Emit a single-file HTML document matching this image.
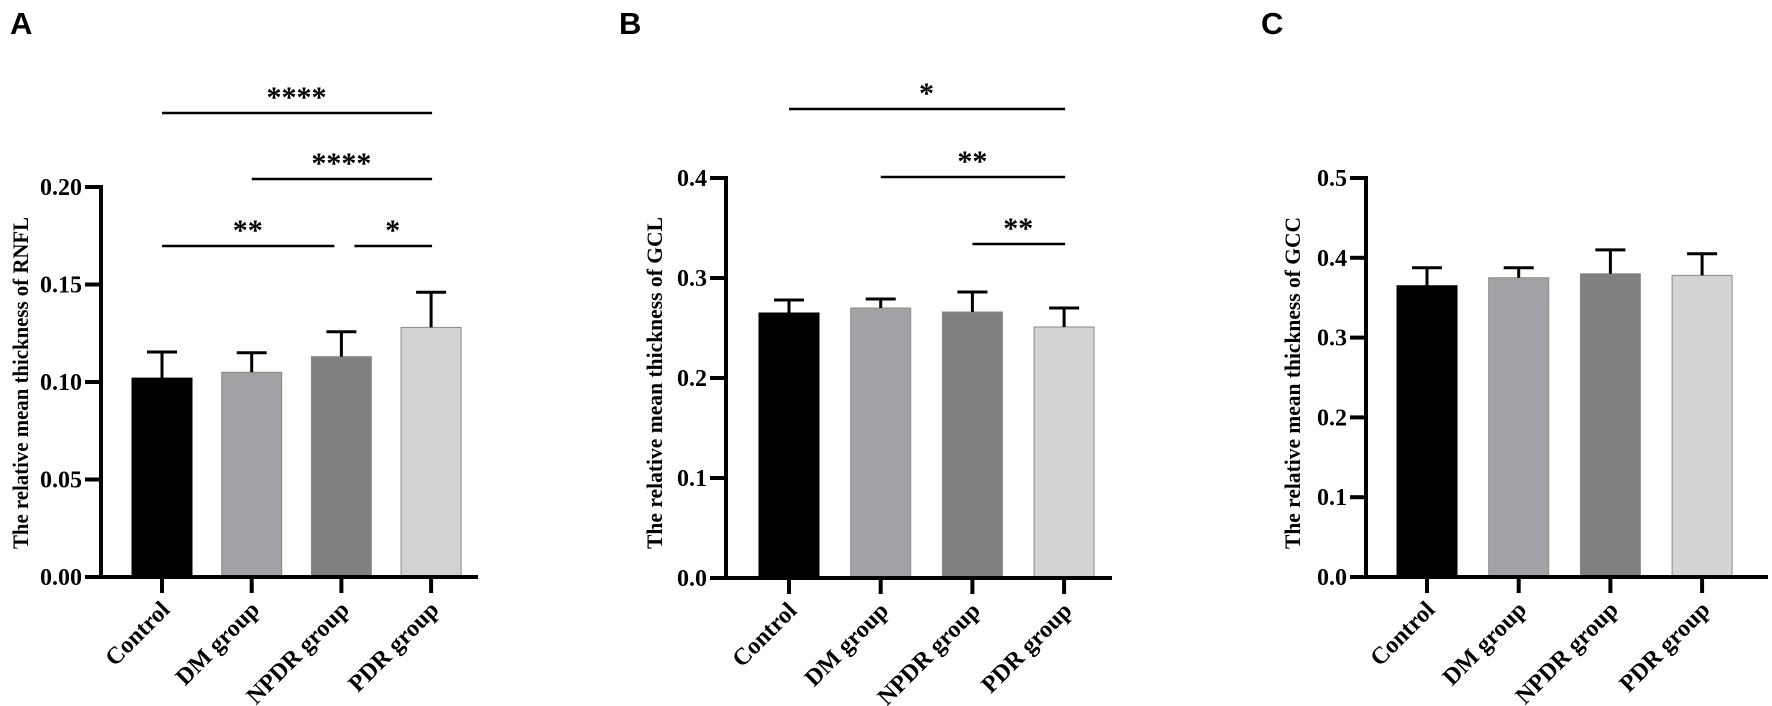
<!DOCTYPE html>
<html><head><meta charset="utf-8"><style>
html,body{margin:0;padding:0;background:#fff;}
svg{display:block;}
text{font-family:"Liberation Serif",serif;font-weight:bold;fill:#000;}
.plabel{font-family:"Liberation Sans",sans-serif;}
</style></head><body>
<svg id="fig" width="1772" height="706" viewBox="0 0 1772 706" xmlns="http://www.w3.org/2000/svg"></svg>
<script>
const categories = ["Control","DM group","NPDR group","PDR group"];
const barColors = ["#000000","#a2a1a6","#808080","#d3d3d3"];
const rnflMeans = [0.102,0.105,0.113,0.128];
const rnflErr = [0.0134,0.010,0.0128,0.018];
const rnflTicks = [0,0.05,0.10,0.15,0.20];
const rnflTickLabels = ["0.00","0.05","0.10","0.15","0.20"];
const rnflSig = [[0,3,"****"],[1,3,"****"],[0,2,"**"],[2,3,"*"]];
const gclMeans = [0.265,0.270,0.266,0.251];
const gclErr = [0.013,0.009,0.020,0.019];
const gclTicks = [0,0.1,0.2,0.3,0.4];
const gclTickLabels = ["0.0","0.1","0.2","0.3","0.4"];
const gclSig = [[0,3,"*"],[1,3,"**"],[2,3,"**"]];
const gccMeans = [0.365,0.375,0.380,0.378];
const gccErr = [0.0225,0.0125,0.030,0.027];
const gccTicks = [0,0.1,0.2,0.3,0.4,0.5];
const gccTickLabels = ["0.0","0.1","0.2","0.3","0.4","0.5"];
const gccSig = [];

const NS="http://www.w3.org/2000/svg";
const svg=document.getElementById('fig');
function mk(tag,attrs,parent){const e=document.createElementNS(NS,tag);for(const k in attrs)e.setAttribute(k,attrs[k]);(parent||svg).appendChild(e);return e;}

const panels=[
 {id:'a',letter:'A',lx:10,axisX:101,y0:577,yTop:187,ymax:0.20,x0:162,step:89.7,xEnd:478,means:rnflMeans,err:rnflErr,ticks:rnflTicks,labels:rnflTickLabels,sig:rnflSig,sigY:[113,179,246,246],title:"The relative mean thickness of RNFL",titleX:28},
 {id:'b',letter:'B',lx:619,axisX:726,y0:578,yTop:178,ymax:0.4,x0:789,step:91.7,xEnd:1112,means:gclMeans,err:gclErr,ticks:gclTicks,labels:gclTickLabels,sig:gclSig,sigY:[109,177,244],title:"The relative mean thickness of GCL",titleX:662},
 {id:'c',letter:'C',lx:1261,axisX:1366,y0:577,yTop:178,ymax:0.5,x0:1427,step:91.7,xEnd:1768,means:gccMeans,err:gccErr,ticks:gccTicks,labels:gccTickLabels,sig:gccSig,sigY:[],title:"The relative mean thickness of GCC",titleX:1300}
];

panels.forEach(p=>{
 const g=mk('g',{});
 
 
 const yS=v=>p.y0-(v/p.ymax)*(p.y0-p.yTop);
 const xS=i=>p.x0+i*p.step;
 const L=mk('text',{x:p.lx,y:34,'font-size':31,class:'plabel'},g);L.textContent=p.letter;
 
 
 p.means.forEach((m,i)=>{
  const cx=xS(i);
  const r=mk('rect',{x:cx-30,y:yS(m),width:60,height:p.y0-yS(m),fill:barColors[i],stroke:i==0?'#000':'#8a8a8a','stroke-width':1},g);
  
  
  const top=yS(m+p.err[i]);
  const e=mk('path',{d:`M${cx} ${yS(m)} V${top} M${cx-15} ${top} H${cx+15}`,stroke:'#000','stroke-width':3,fill:'none'},g);
  
  
  const t=mk('path',{d:`M${cx} ${p.y0} V${p.y0+16}`,stroke:'#000','stroke-width':4},g);
  
  
  const tx=mk('text',{x:0,y:0,'font-size':24,'text-anchor':'end',transform:`translate(${cx+9},${p.y0+34}) rotate(-45)`},g);
  tx.textContent=categories[i];
  
  
 });
 const ya=mk('path',{d:`M${p.axisX} ${p.yTop-2} V${p.y0+2}`,stroke:'#000','stroke-width':4},g);
 
 
 const xa=mk('path',{d:`M${p.axisX-16} ${p.y0} H${p.xEnd}`,stroke:'#000','stroke-width':4},g);
 
 
 p.ticks.forEach((v,k)=>{
  const y=yS(v);
  const tk=mk('path',{d:`M${p.axisX-16} ${y} H${p.axisX}`,stroke:'#000','stroke-width':4},g);
  
  
  const tl=mk('text',{x:p.axisX-19,y:y+8,'font-size':24,'text-anchor':'end'},g);
  tl.textContent=p.labels[k];
  
  
 });
 const yt=mk('text',{x:0,y:0,'font-size':22,'text-anchor':'middle',textLength:332,lengthAdjust:'spacingAndGlyphs',transform:`translate(${p.titleX},383) rotate(-90)`},g);
 yt.textContent=p.title;
 
 
 p.sig.forEach((s,k)=>{
  let x1=xS(s[0]),x2=xS(s[1]);
  // shorten lines that share an endpoint with another line at the same height
  p.sig.forEach((o,j)=>{ if(j!==k && p.sigY[j]===p.sigY[k]){
    if(o[0]===s[1]) x2-=8;
    if(o[1]===s[0]) x1+=13;
  }});
  const y=p.sigY[k];
  const ln=mk('path',{d:`M${x1} ${y} H${x2+1}`,stroke:'#000','stroke-width':2.5},g);
  
  
  const st=mk('text',{x:(x1+x2)/2,y:y-6,'font-size':30,'text-anchor':'middle'},g);
  st.textContent=s[2];
  
  
 });
});
</script>
</body></html>
